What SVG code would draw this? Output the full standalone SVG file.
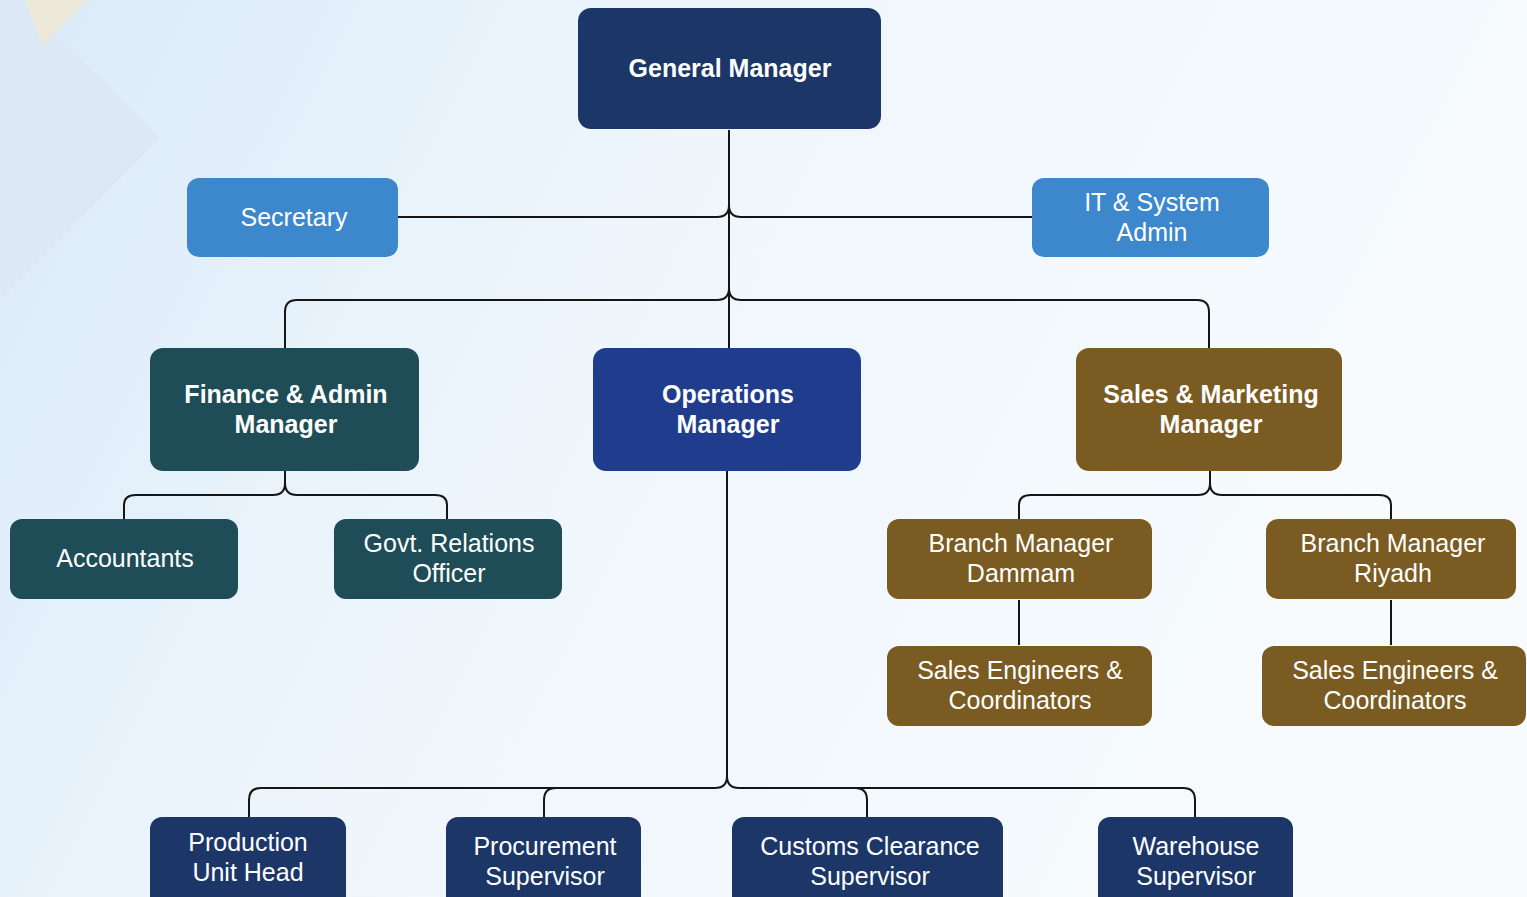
<svg xmlns="http://www.w3.org/2000/svg" width="1527" height="897" viewBox="0 0 1527 897">
<defs>
<linearGradient id="bg" x1="0" y1="0" x2="1" y2="0.3">
<stop offset="0" stop-color="#d9eaf8"/>
<stop offset="0.45" stop-color="#eef6fc"/>
<stop offset="1" stop-color="#f7fbfe"/>
</linearGradient>
<style>
.n{stroke:none}
.navy{fill:#1b3667}
.ops{fill:#1f3d8c}
.blue{fill:#3d87cd}
.teal{fill:#1e4d58}
.brown{fill:#7a5b21}
text{font-family:"Liberation Sans",Arial,sans-serif;fill:#ffffff;text-anchor:middle}
.b{font-weight:bold;font-size:25px}
.r{font-size:25px}
.c{fill:none;stroke:#151515;stroke-width:2}
</style>
</defs>
<rect width="1527" height="897" fill="url(#bg)"/>
<polygon points="0,0 22,0 160,138 0,300" fill="#dce8f5"/>
<polygon points="25,0 88,0 42,46" fill="#ece9db"/>

<g id="connectors">
<path class="c" d="M729,130 V348"/>
<path class="c" d="M398,217 H717 Q729,217 729,205 Q729,217 741,217 H1032"/>
<path class="c" d="M285,348 V312 Q285,300 297,300 H717 Q729,300 729,288 Q729,300 741,300 H1197 Q1209,300 1209,312 V348"/>
<path class="c" d="M285,471 V483 Q285,495 273,495 H136 Q124,495 124,505 V519"/>
<path class="c" d="M285,483 Q285,495 297,495 H435 Q447,495 447,505 V519"/>
<path class="c" d="M1210,471 V483 Q1210,495 1198,495 H1031 Q1019,495 1019,505 V519"/>
<path class="c" d="M1210,483 Q1210,495 1222,495 H1379 Q1391,495 1391,505 V519"/>
<path class="c" d="M1019,600 V645"/>
<path class="c" d="M1391,600 V645"/>
<path class="c" d="M727,471 V776 Q727,788 715,788 H261 Q249,788 249,800 V817"/>
<path class="c" d="M727,776 Q727,788 739,788 H1183 Q1195,788 1195,800 V817"/>
<path class="c" d="M544,817 V800 Q544,788 556,788"/>
<path class="c" d="M867,817 V800 Q867,788 855,788"/>
</g>

<g id="general-manager"><rect class="n navy" x="578" y="8" width="303" height="121" rx="13"/><text class="b" x="730" y="77">General Manager</text></g>
<g id="secretary"><rect class="n blue" x="187" y="178" width="211" height="79" rx="12"/><text class="r" x="294" y="226">Secretary</text></g>
<g id="it-admin"><rect class="n blue" x="1032" y="178" width="237" height="79" rx="12"/><text class="r" x="1152" y="211">IT &amp; System</text><text class="r" x="1152" y="241">Admin</text></g>
<g id="finance-manager"><rect class="n teal" x="150" y="348" width="269" height="123" rx="13"/><text class="b" x="286" y="403">Finance &amp; Admin</text><text class="b" x="286" y="433">Manager</text></g>
<g id="operations-manager"><rect class="n ops" x="593" y="348" width="268" height="123" rx="13"/><text class="b" x="728" y="403">Operations</text><text class="b" x="728" y="433">Manager</text></g>
<g id="sales-manager"><rect class="n brown" x="1076" y="348" width="266" height="123" rx="13"/><text class="b" x="1211" y="403">Sales &amp; Marketing</text><text class="b" x="1211" y="433">Manager</text></g>
<g id="accountants"><rect class="n teal" x="10" y="519" width="228" height="80" rx="12"/><text class="r" x="125" y="567">Accountants</text></g>
<g id="govt-relations"><rect class="n teal" x="334" y="519" width="228" height="80" rx="12"/><text class="r" x="449" y="552">Govt. Relations</text><text class="r" x="449" y="582">Officer</text></g>
<g id="branch-dammam"><rect class="n brown" x="887" y="519" width="265" height="80" rx="12"/><text class="r" x="1021" y="552">Branch Manager</text><text class="r" x="1021" y="582">Dammam</text></g>
<g id="branch-riyadh"><rect class="n brown" x="1266" y="519" width="250" height="80" rx="12"/><text class="r" x="1393" y="552">Branch Manager</text><text class="r" x="1393" y="582">Riyadh</text></g>
<g id="sales-eng-dammam"><rect class="n brown" x="887" y="646" width="265" height="80" rx="12"/><text class="r" x="1020" y="679">Sales Engineers &amp;</text><text class="r" x="1020" y="709">Coordinators</text></g>
<g id="sales-eng-riyadh"><rect class="n brown" x="1262" y="646" width="264" height="80" rx="12"/><text class="r" x="1395" y="679">Sales Engineers &amp;</text><text class="r" x="1395" y="709">Coordinators</text></g>
<g id="production"><rect class="n navy" x="150" y="817" width="196" height="95" rx="12"/><text class="r" x="248" y="851">Production</text><text class="r" x="248" y="881">Unit Head</text></g>
<g id="procurement"><rect class="n navy" x="446" y="817" width="195" height="95" rx="12"/><text class="r" x="545" y="855">Procurement</text><text class="r" x="545" y="885">Supervisor</text></g>
<g id="customs"><rect class="n navy" x="732" y="817" width="271" height="95" rx="12"/><text class="r" x="870" y="855">Customs Clearance</text><text class="r" x="870" y="885">Supervisor</text></g>
<g id="warehouse"><rect class="n navy" x="1098" y="817" width="195" height="95" rx="12"/><text class="r" x="1196" y="855">Warehouse</text><text class="r" x="1196" y="885">Supervisor</text></g>
</svg>
